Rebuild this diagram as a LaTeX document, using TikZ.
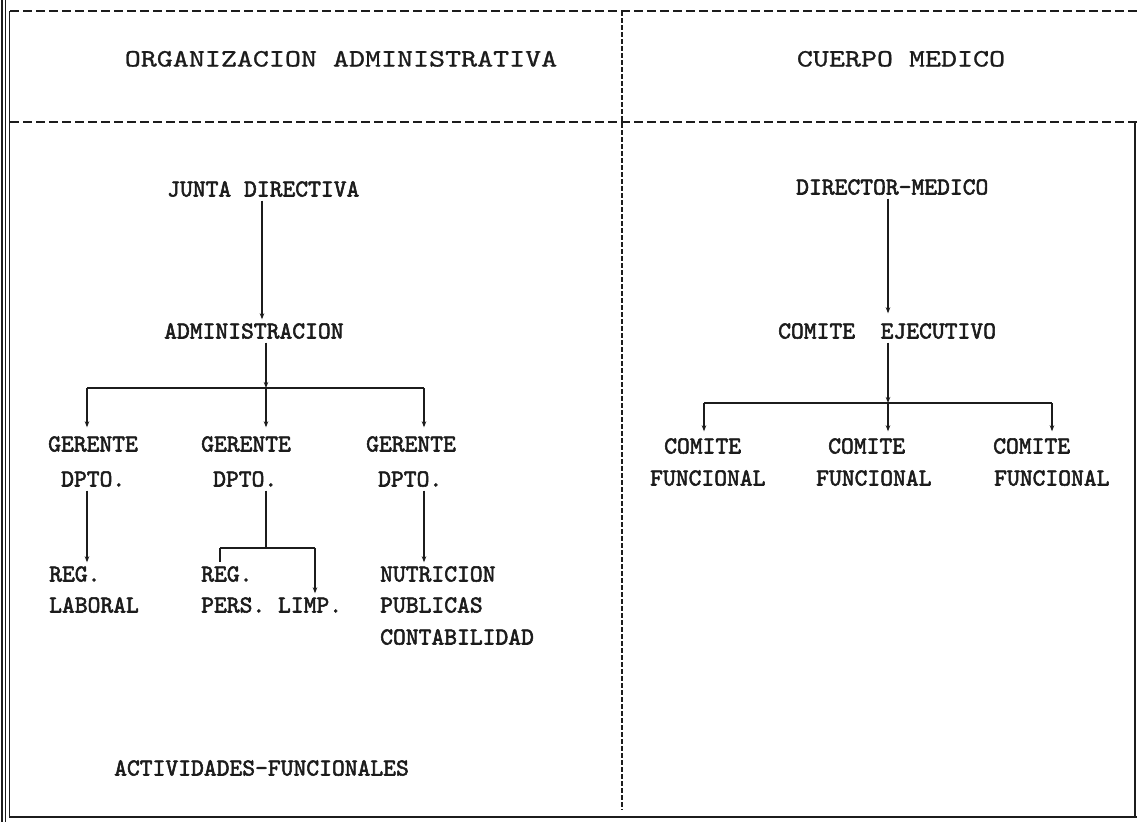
\documentclass[tikz,border=0pt]{standalone}
\usepackage{fontspec}
\usetikzlibrary{arrows.meta}
\definecolor{inkc}{RGB}{28,28,28}
% struck-twice typewriter face for the chart entries, plain one for headings
\newfontfamily\strikefont{lmmono10-regular.otf}[FakeBold=2.2]
\newfontfamily\plainfont{lmmono10-regular.otf}[FakeBold=0.8]
% wide 10-pitch lettering for the two column headings
\newcommand{\pica}[1]{\scalebox{1.22}[1]{#1}}
\begin{document}
\begin{tikzpicture}[x=1pt,y=-1pt,
  chart/.style={font=\strikefont\fontsize{24.4}{24.4}\selectfont, text=inkc,
    inner xsep=0pt, inner ysep=4pt, text height=15pt, text depth=0pt, anchor=west},
  head/.style={font=\plainfont\fontsize{25}{25}\selectfont, text=inkc,
    inner sep=0pt, text height=15pt, text depth=0pt, anchor=center},
  link/.style={draw=inkc, line width=2pt},
  arr/.style={link, -{Stealth[length=6pt,width=4.5pt]}},
  rule/.style={draw=inkc, line width=1.1pt},
  dashh/.style={draw=inkc, line width=1.8pt, dash pattern=on 9pt off 4pt},
  dashv/.style={draw=inkc, line width=1.8pt, dash pattern=on 5pt off 2pt}]
\useasboundingbox (0,0) rectangle (1137,822);
\fill[white] (0,0) rectangle (1137,822);

% outer frame: double rule on the left, single rules right and below
\draw[rule] (2,0) -- (2,822);
\draw[rule] (5.5,0) -- (5.5,822);
\draw[rule] (9.5,11) -- (9.5,817) -- (1137,817);
\draw[rule] (1135,122) -- (1135,817);

% dashed heading band and column divider
\draw[dashh] (10,11) -- (1137,11);
\draw[dashh] (10,122) -- (1137,122);
\draw[dashv] (622,11) -- (622,810);

% column headings
\node[head] (orgadm) at (341,59) {\pica{ORGANIZACION ADMINISTRATIVA}};
\node[head] (cuerpo) at (901,59) {\pica{CUERPO MEDICO}};

% administrative organisation
\node[chart] (junta) at (167,189) {JUNTA DIRECTIVA};
\node[chart] (admin) at (164,331) {ADMINISTRACION};

\node[chart] (ger1)  at (48,444)  {GERENTE};
\node[chart] (dpto1) at (61,479)  {DPTO.};
\node[chart] (ger2)  at (201,444) {GERENTE};
\node[chart] (dpto2) at (213,479) {DPTO.};
\node[chart] (ger3)  at (366,444) {GERENTE};
\node[chart] (dpto3) at (378,479) {DPTO.};

\node[chart] (reg1) at (49,574)  {REG.};
\node[chart] (lab1) at (49,605)  {LABORAL};
\node[chart] (reg2) at (201,574) {REG.};
\node[chart] (pers) at (201,605) {PERS. LIMP.};
\node[chart] (nutr) at (380,574) {NUTRICION};
\node[chart] (pub)  at (380,605) {PUBLICAS};
\node[chart] (cont) at (380,637) {CONTABILIDAD};

\node[chart] (acts) at (114,768) {ACTIVIDADES-FUNCIONALES};

% medical staff
\node[chart] (dirmed) at (796,187) {DIRECTOR-MEDICO};
\node[chart] (comej)  at (778,331) {COMITE\ \ EJECUTIVO};
\node[chart] (com1) at (664,446) {COMITE};
\node[chart] (fun1) at (650,478) {FUNCIONAL};
\node[chart] (com2) at (828,446) {COMITE};
\node[chart] (fun2) at (816,478) {FUNCIONAL};
\node[chart] (com3) at (993,446) {COMITE};
\node[chart] (fun3) at (994,478) {FUNCIONAL};

% junction points of the branch bars
\coordinate (cJ)  at (262,0);
\coordinate (b1L) at (87,388);
\coordinate (b1M) at (266,388);
\coordinate (b1R) at (424,388);
\coordinate (b2)  at (266,548);
\coordinate (b2L) at (220,548);
\coordinate (b2R) at (315,548);
\coordinate (b3L) at (704,403);
\coordinate (b3M) at (888,403);
\coordinate (b3R) at (1052,403);

% left tree
\draw[arr] (junta.south -| cJ) -- (admin.north -| cJ);
\draw[arr] (admin.south -| b1M) -- (b1M);
\draw[link] (b1L) -- (b1R);
\draw[arr, shorten >=5pt] (b1L) -- (ger1.north -| b1L);
\draw[arr, shorten >=5pt] (b1M) -- (ger2.north -| b1M);
\draw[arr, shorten >=5pt] (b1R) -- (ger3.north -| b1R);
\draw[arr] (dpto1.south -| b1L) -- (reg1.north -| b1L);
\draw[link] (dpto2.south -| b2) -- (b2);
\draw[link] (b2L) -- (b2R);
\draw[link] (b2L) -- (reg2.north -| b2L);
\draw[arr] (b2R) -- (pers.north -| b2R);
\draw[arr] (dpto3.south -| b1R) -- (nutr.north -| b1R);

% right tree
\draw[arr, shorten >=6pt] (dirmed.south -| b3M) -- (comej.north -| b3M);
\draw[arr] (comej.south -| b3M) -- (b3M);
\draw[link] (b3L) -- (b3R);
\draw[arr, shorten >=3pt] (b3L) -- (com1.north -| b3L);
\draw[arr, shorten >=3pt] (b3M) -- (com2.north -| b3M);
\draw[arr, shorten >=3pt] (b3R) -- (com3.north -| b3R);
\end{tikzpicture}
\end{document}
